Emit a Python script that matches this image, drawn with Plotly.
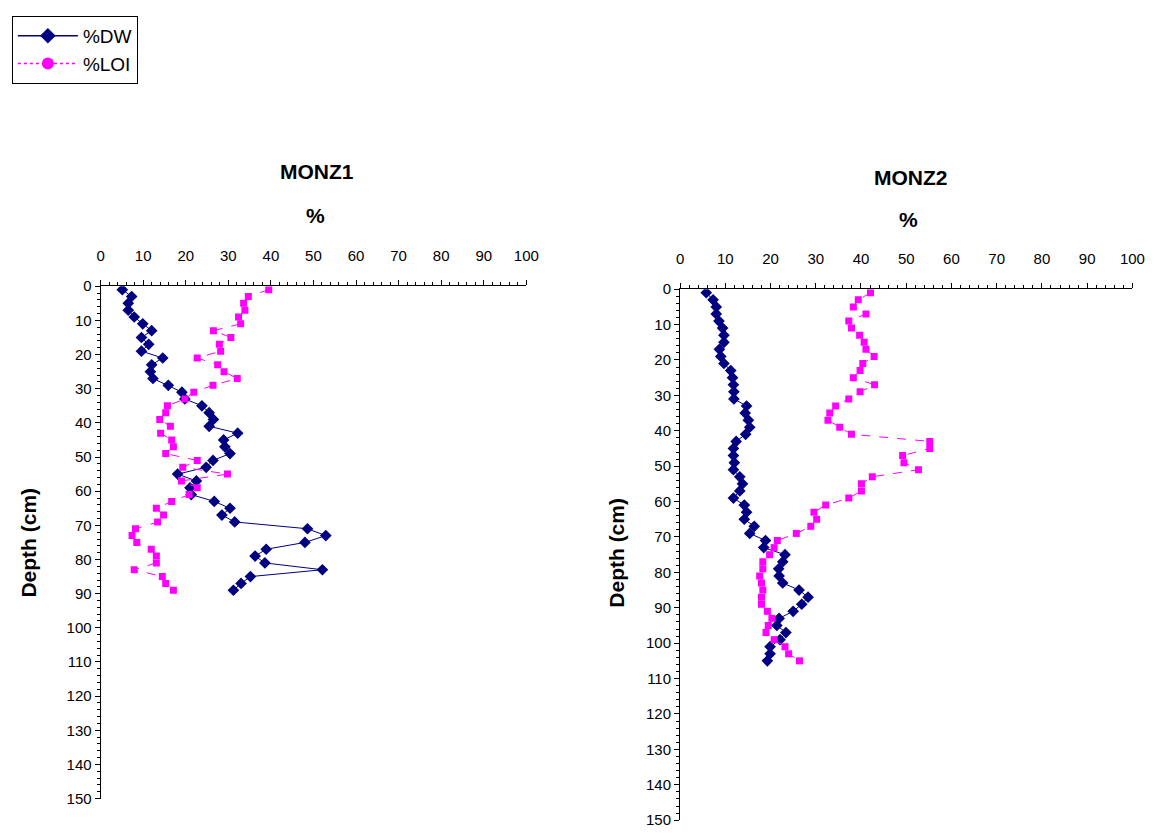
import plotly.graph_objects as go

# Sample depths (cm), 2 cm slices
depth_monz1 = list(range(1, 90, 2))
depth_monz2 = list(range(1, 106, 2))

# MONZ1 core
dw_monz1 = [5.1, 7.3, 6.5, 6.5, 7.9, 9.9, 12.0, 9.6, 11.3, 9.6,
            14.6, 12.0, 11.7, 12.3, 15.9, 19.1, 19.8, 23.8, 25.5, 26.5,
            25.5, 32.2, 28.9, 29.2, 30.4, 26.4, 24.8, 18.1, 22.5, 21.0,
            21.3, 26.7, 30.4, 28.5, 31.5, 48.6, 52.9, 48.0, 38.9, 36.3,
            38.6, 52.1, 35.2, 33.0, 31.2]
loi_monz1 = [39.5, 34.7, 33.6, 33.9, 32.4, 32.9, 26.5, 30.6, 27.9, 28.2,
             22.7, 27.5, 29.0, 32.1, 26.4, 21.9, 19.8, 15.7, 15.3, 13.9,
             16.4, 14.1, 16.7, 17.1, 15.3, 22.7, 19.3, 29.8, 19.0, 22.7,
             20.8, 16.7, 13.1, 14.8, 13.4, 8.2, 7.4, 8.5, 11.9, 13.1,
             13.1, 7.9, 14.5, 15.3, 17.1]

# MONZ2 core
dw_monz2 = [5.8, 7.3, 8.0, 8.0, 8.6, 9.4, 9.7, 9.7, 8.7, 9.0,
            9.7, 11.2, 11.6, 11.8, 11.9, 11.9, 14.7, 14.4, 15.1, 15.4,
            14.5, 12.4, 11.8, 11.8, 12.0, 11.8, 13.2, 13.8, 13.2, 11.8,
            14.2, 14.7, 14.2, 16.4, 15.4, 18.9, 18.5, 23.2, 22.7, 21.8,
            21.9, 22.7, 26.3, 28.3, 26.9, 25.0, 21.9, 21.4, 23.4, 22.1,
            19.9, 19.9, 19.3]
loi_monz2 = [42.1, 39.4, 38.3, 41.1, 37.3, 37.9, 39.7, 40.7, 41.1, 42.9,
             40.4, 39.8, 38.3, 43.0, 39.8, 37.3, 34.4, 33.1, 32.7, 35.3,
             37.9, 55.2, 55.2, 49.2, 49.5, 52.7, 42.5, 40.1, 40.1, 37.3,
             32.2, 29.6, 30.2, 28.9, 25.7, 21.5, 20.8, 19.8, 18.3, 18.3,
             17.6, 18.0, 18.3, 18.0, 18.0, 19.3, 20.3, 19.5, 19.0, 20.8,
             23.2, 24.0, 26.4]

x_ticks = list(range(0, 101, 10))
y_ticks = list(range(0, 151, 10))

DW_COLOR = "#000080"
LOI_COLOR = "#FF00FF"
FONT = "Arial, Liberation Sans, sans-serif"

W, H = 1173, 836

fig = go.Figure()

cores = [
    ("x", "y", depth_monz1, dw_monz1, loi_monz1),
    ("x2", "y2", depth_monz2, dw_monz2, loi_monz2),
]
for xa, ya, depth, dw, loi in cores:
    fig.add_trace(go.Scatter(
        x=dw, y=depth, xaxis=xa, yaxis=ya, mode="lines+markers",
        line=dict(color=DW_COLOR, width=1),
        marker=dict(symbol="diamond", size=9, color=DW_COLOR),
        showlegend=False, hoverinfo="skip"))
    fig.add_trace(go.Scatter(
        x=loi, y=depth, xaxis=xa, yaxis=ya, mode="lines+markers",
        line=dict(color=LOI_COLOR, width=1, dash="dash"),
        marker=dict(symbol="square", size=7, color=LOI_COLOR),
        showlegend=False, hoverinfo="skip"))

# Legend entries
fig.add_trace(go.Scatter(
    x=[None], y=[None], mode="lines+markers", name="%DW",
    line=dict(color=DW_COLOR, width=1.5),
    marker=dict(symbol="diamond", size=12, color=DW_COLOR)))
fig.add_trace(go.Scatter(
    x=[None], y=[None], mode="lines+markers", name="%LOI",
    line=dict(color=LOI_COLOR, width=1.5, dash="dot"),
    marker=dict(symbol="circle", size=12, color=LOI_COLOR)))


def px_x(p):
    return p / W


def px_y(p):
    return 1 - p / H


xaxis_common = dict(
    range=[0, 100], side="top", showgrid=False, zeroline=False,
    showline=True, linecolor="black", linewidth=1,
    tickmode="array", tickvals=x_ticks, ticktext=[str(v) for v in x_ticks],
    ticks="outside", ticklen=5, tickwidth=1, tickcolor="black",
    ticklabelstandoff=13,
    minor=dict(dtick=2, ticks="outside", ticklen=3, tickwidth=1, tickcolor="black"),
    tickfont=dict(family=FONT, size=15, color="black"),
    fixedrange=True,
)
yaxis_common = dict(
    range=[150, 0], showgrid=False, zeroline=False,
    showline=True, linecolor="black", linewidth=1,
    tickmode="array", tickvals=y_ticks, ticktext=[str(v) for v in y_ticks],
    ticks="outside", ticklen=5, tickwidth=1, tickcolor="black",
    minor=dict(dtick=2, ticks="outside", ticklen=3, tickwidth=1, tickcolor="black"),
    tickfont=dict(family=FONT, size=15, color="black"),
    fixedrange=True,
)

fig.update_layout(
    width=W, height=H,
    margin=dict(l=0, r=0, t=0, b=0),
    paper_bgcolor="white", plot_bgcolor="white",
    font=dict(family=FONT, color="black"),
    xaxis=dict(xaxis_common, domain=[px_x(98), px_x(530)], anchor="y"),
    yaxis=dict(yaxis_common, domain=[px_y(806), px_y(283)], anchor="x"),
    xaxis2=dict(xaxis_common, domain=[px_x(686), px_x(1145)], anchor="y2"),
    yaxis2=dict(yaxis_common, domain=[px_y(828), px_y(286)], anchor="x2"),
    legend=dict(
        x=px_x(8), y=px_y(7), xanchor="left", yanchor="top",
        bordercolor="black", borderwidth=1, bgcolor="white",
        font=dict(family=FONT, size=19, color="black"),
        itemwidth=60,
    ),
    showlegend=True,
)

annotations = []
for title, cx, ty, py, dx, dy in [
    ("MONZ1", 318, 166, 211, 25, 545),
    ("MONZ2", 920, 172, 215, 622, 555),
]:
    annotations.append(dict(text="<b>%s</b>" % title, x=px_x(cx), y=px_y(ty),
                            xref="paper", yref="paper", showarrow=False,
                            xanchor="center", yanchor="middle",
                            font=dict(family=FONT, size=21, color="black")))
    annotations.append(dict(text="<b>%</b>", x=px_x(cx - 2), y=px_y(py),
                            xref="paper", yref="paper", showarrow=False,
                            xanchor="center", yanchor="middle",
                            font=dict(family=FONT, size=21, color="black")))
    annotations.append(dict(text="<b>Depth (cm)</b>", x=px_x(dx), y=px_y(dy),
                            xref="paper", yref="paper", showarrow=False,
                            textangle=-90, xanchor="center", yanchor="middle",
                            font=dict(family=FONT, size=21, color="black")))
fig.update_layout(annotations=annotations)

fig.write_html("out.html")
